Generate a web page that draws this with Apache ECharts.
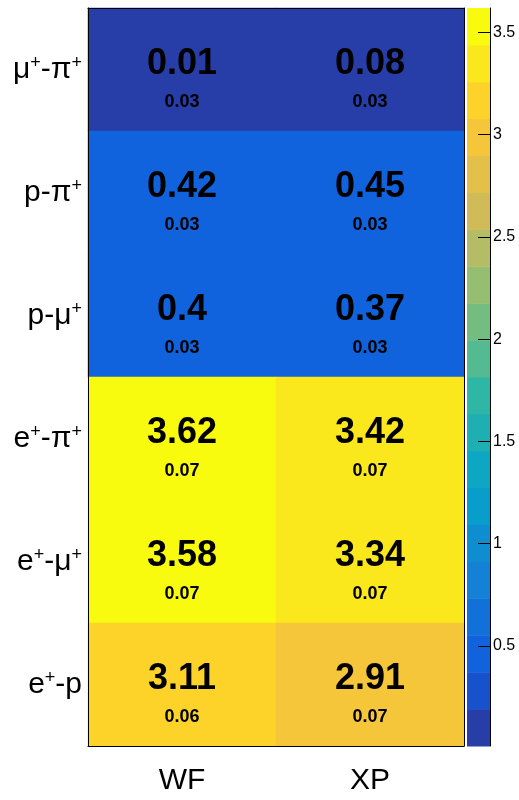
<!DOCTYPE html>
<html>
<head>
<meta charset="utf-8">
<script src="https://cdn.jsdelivr.net/npm/echarts@6/dist/echarts.min.js"></script>
<style>
  html, body { margin: 0; padding: 0; background: #fff; }
  #main { width: 519px; height: 800px; }
</style>
</head>
<body>
<div id="main"></div>
<script>
    // data
    var methods = ['WF', 'XP'];
    var pairs = ['μ+-π+', 'p-π+', 'p-μ+', 'e+-π+', 'e+-μ+', 'e+-p'];
    var wfValues = [0.01, 0.42, 0.4, 3.62, 3.58, 3.11];
    var wfErrors = [0.03, 0.03, 0.03, 0.07, 0.07, 0.06];
    var xpValues = [0.08, 0.45, 0.37, 3.42, 3.34, 2.91];
    var xpErrors = [0.03, 0.03, 0.03, 0.07, 0.07, 0.07];
    var zTicks = [0.5, 1, 1.5, 2, 2.5, 3, 3.5];

    // colour scale (20 contour levels, bird palette)
    var zMin = 0.01, zMax = 3.62, nLevels = 20;
    var birdColors = ['#273da8', '#1751cb', '#1063dc', '#1271d9', '#1480d6',
        '#0e8ed1', '#099dcc', '#0da7c3', '#1eafb3', '#2eb7a4',
        '#53ba91', '#74bd80', '#96be71', '#b4bd65', '#d1bb59',
        '#e3c04a', '#f5c63a', '#fdd32a', '#fbe81c', '#f9fb0e'];
    var step = (zMax - zMin) / nLevels;

    var cells = [];
    for (var i = 0; i < pairs.length; i++) {
        cells.push([0, i, wfValues[i], wfErrors[i]]);
        cells.push([1, i, xpValues[i], xpErrors[i]]);
    }

    var pieces = [];
    var levels = [];
    for (var k = 0; k < nLevels; k++) {
        var piece = {color: birdColors[k]};
        if (k > 0) piece.gte = zMin + (k - 0.01) * step;
        if (k < nLevels - 1) piece.lt = zMin + (k + 0.99) * step;
        pieces.push(piece);
        levels.push([0, zMin + k * step, zMin + (k + 1) * step, k]);
    }

    var font = 'Liberation Sans, Arial, Helvetica, sans-serif';
    var myChart = echarts.init(document.getElementById('main'));
    var option = {
        animation: false,
        grid: [
            {left: 88, top: 8, width: 376, height: 738},
            {left: 467, top: 8, width: 23, height: 738}
        ],
        visualMap: {
            type: 'piecewise',
            show: false,
            dimension: 2,
            seriesIndex: 0,
            pieces: pieces
        },
        xAxis: [
            {
                type: 'category', gridIndex: 0, data: methods, position: 'bottom', z: 5,
                axisLine: {lineStyle: {color: '#000', width: 1}},
                axisTick: {inside: true, length: 21, lineStyle: {color: '#000'}},
                axisLabel: {fontSize: 30, color: '#000', fontFamily: font, margin: 20}
            },
            {
                type: 'category', gridIndex: 0, data: methods, position: 'top', z: 5,
                axisLine: {lineStyle: {color: '#000', width: 1}},
                axisTick: {inside: true, length: 21, lineStyle: {color: '#000'}},
                axisLabel: {show: false}
            },
            {
                type: 'category', gridIndex: 1, data: ['z'], show: false
            }
        ],
        yAxis: [
            {
                type: 'category', gridIndex: 0, data: pairs, inverse: true, position: 'left', z: 5,
                axisLine: {lineStyle: {color: '#000', width: 1}},
                axisTick: {inside: true, length: 13, lineStyle: {color: '#000'}},
                axisLabel: {
                    margin: 6,
                    color: '#000',
                    formatter: function (v) {
                        return '{n|' + v.replace(/\+/g, '}{s|+}{n|') + '}';
                    },
                    rich: {
                        n: {fontSize: 30, color: '#000', fontFamily: font},
                        s: {fontSize: 18, color: '#000', fontFamily: font, verticalAlign: 'top', padding: [0, 0, 10, 0]}
                    }
                }
            },
            {
                type: 'category', gridIndex: 0, data: pairs, inverse: true, position: 'right', z: 5,
                axisLine: {lineStyle: {color: '#000', width: 1}},
                axisTick: {inside: true, length: 13, lineStyle: {color: '#000'}},
                axisLabel: {show: false}
            },
            {
                type: 'value', gridIndex: 1, min: zMin, max: zMax, position: 'right', z: 5,
                splitLine: {show: false},
                axisLine: {show: true, lineStyle: {color: '#000', width: 1}},
                axisTick: {show: true, inside: true, length: 12, customValues: zTicks, lineStyle: {color: '#000'}},
                axisLabel: {customValues: zTicks, fontSize: 16, color: '#000', fontFamily: font, margin: 3}
            }
        ],
        series: [
            {
                type: 'heatmap',
                xAxisIndex: 0,
                yAxisIndex: 0,
                data: cells,
                emphasis: {disabled: true},
                label: {
                    show: true,
                    offset: [0, 8],
                    formatter: function (p) {
                        return '{a|' + p.value[2] + '}\n{b|' + p.value[3] + '}';
                    },
                    rich: {
                        a: {fontSize: 36, fontWeight: 'bold', color: '#000', fontFamily: font, lineHeight: 50},
                        b: {fontSize: 18, fontWeight: 'bold', color: '#000', fontFamily: font, lineHeight: 26}
                    }
                }
            },
            {
                // colour bar
                type: 'custom',
                xAxisIndex: 2,
                yAxisIndex: 2,
                data: levels,
                encode: {x: 0, y: [1, 2]},
                renderItem: function (params, api) {
                    var p0 = api.coord([0, api.value(1)]);
                    var p1 = api.coord([0, api.value(2)]);
                    var w = api.size([1, 0])[0];
                    return {
                        type: 'rect',
                        shape: {x: p0[0] - w / 2, y: p1[1], width: w, height: p0[1] - p1[1] + 0.5},
                        style: {fill: birdColors[api.value(3)]}
                    };
                }
            }
        ]
    };
    myChart.setOption(option);
</script>
</body>
</html>
